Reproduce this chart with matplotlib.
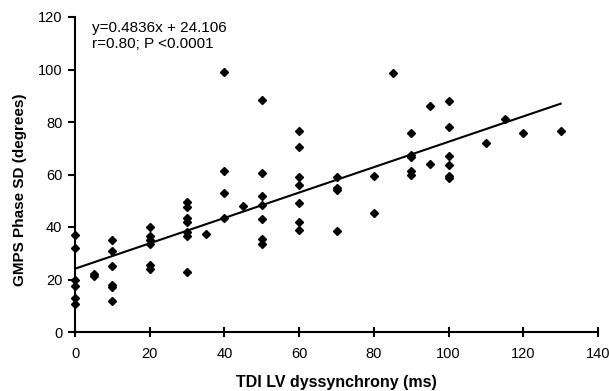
import matplotlib
matplotlib.use("Agg")
import matplotlib.pyplot as plt
import numpy as np

plt.rcParams['font.family'] = ['Liberation Sans', 'DejaVu Sans']

# TDI LV dyssynchrony (ms) and GMPS phase SD (degrees)
x0 = [0, 0, 0, 0, 0, 0]
y0 = [37, 32, 20, 17.5, 13, 10.5]
x5 = [5, 5]
y5 = [21.5, 22]
x10 = [10, 10, 10, 10, 10, 10]
y10 = [35, 31, 25, 18, 17, 12]
x20 = [20, 20, 20, 20, 20, 20]
y20 = [40, 36.5, 35, 33.5, 25.5, 24]
x30 = [30, 30, 30, 30, 30, 30, 30, 35]
y30 = [49.5, 47.5, 43.5, 42, 38, 36.5, 23, 37.5]
x40 = [40, 40, 40, 40, 45]
y40 = [99, 61.5, 53, 43.5, 48]
x50 = [50, 50, 50, 50, 50, 50, 50]
y50 = [88.5, 60.5, 52, 48.5, 43, 35.5, 33.5]
x60 = [60, 60, 60, 60, 60, 60, 60]
y60 = [76.5, 70.5, 59, 56, 49, 42, 39]
x70 = [70, 70, 70, 70, 80, 80, 85]
y70 = [59, 55, 54, 38.5, 59.5, 45.5, 98.5]
x90 = [90, 90, 90, 90, 90, 95, 95]
y90 = [76, 67.5, 66.5, 61.5, 60, 86, 64]
x100 = [100, 100, 100, 100, 100, 100, 110, 115, 120, 130]
y100 = [88, 78, 67, 63.5, 59.5, 58.5, 72, 81, 76, 76.5]

slope = 0.4836
intercept = 24.106
line_x = [0, 130]

x = np.array(x0 + x5 + x10 + x20 + x30 + x40 + x50 + x60 + x70 + x90 + x100, dtype=float)
y = np.array(y0 + y5 + y10 + y20 + y30 + y40 + y50 + y60 + y70 + y90 + y100, dtype=float)

fig = plt.figure(figsize=(6.09, 3.91), dpi=100)
ax = fig.add_axes([75/609, 1 - 332/391, (598-75)/609, (332-17)/391])

ax.plot(x, y, linestyle='none', marker='D', markersize=4, color='black', clip_on=False, zorder=3)
lx = np.array(line_x, dtype=float)
ax.plot(lx, slope*lx + intercept, color='black', linewidth=1.5)

ax.set_xlim(0, 140)
ax.set_ylim(0, 120)
ax.set_xticks(np.arange(0, 141, 20))
ax.set_yticks(np.arange(0, 121, 20))
for s in ['top', 'right']:
    ax.spines[s].set_visible(False)
for s in ['left', 'bottom']:
    ax.spines[s].set_linewidth(1.5)
ax.tick_params(axis='x', direction='inout', length=7, width=1.5, labelsize=10.5, pad=7)
ax.tick_params(axis='y', direction='out', length=5, width=1.5, labelsize=10.5, pad=4)

ax.set_xlabel('TDI LV dyssynchrony (ms)', fontsize=11.5, fontweight='bold')
ax.set_ylabel('GMPS Phase SD (degrees)', fontsize=11, fontweight='bold')
ax.xaxis.set_label_coords(0.5, -0.159)
ax.yaxis.set_label_coords(-0.105, 0.45)
ax.xaxis.label.set_va('center')
ax.yaxis.label.set_va('center')

ax.text(4.5, 118.5, 'y=0.4836x + 24.106\nr=0.80; P <0.0001', fontsize=11, va='top', ha='left', linespacing=1.2)

fig.savefig('out.png', dpi=100)
